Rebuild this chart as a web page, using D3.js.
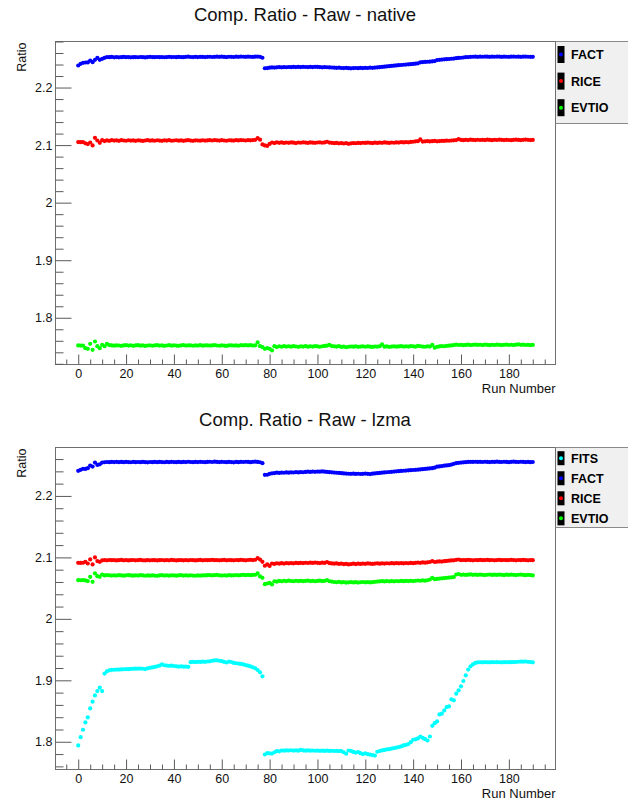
<!DOCTYPE html>
<html><head><meta charset="utf-8">
<script src="https://cdn.jsdelivr.net/npm/d3@7"></script>
<style>body{margin:0;background:#fff}svg{display:block}</style>
</head><body>
<svg id="c" width="628" height="800"></svg>
<script>
// ---------- data ----------
const runs = d3.range(0, 191);
const xMajorTicks = [0, 20, 40, 60, 80, 100, 120, 140, 160, 180];
const yMajorTicks = [1.8, 1.9, 2.0, 2.1, 2.2];
const yTickLabels = ["1.8", "1.9", "2", "2.1", "2.2"];
const titles = ["Comp. Ratio - Raw - native", "Comp. Ratio - Raw - lzma"];
const nativeSeries = ["FACT", "RICE", "EVTIO"];
const lzmaSeries = ["FITS", "FACT", "RICE", "EVTIO"];

const nativeFACT = [
2.2383,2.2412,2.2429,2.2435,2.2437,2.2470,2.2441,2.2481,2.2516,2.2481,
2.2499,2.2516,2.2530,2.2528,2.2532,2.2525,2.2530,2.2525,2.2528,2.2532,
2.2527,2.2530,2.2525,2.2528,2.2530,2.2526,2.2531,2.2528,2.2524,2.2530,
2.2533,2.2529,2.2527,2.2531,2.2528,2.2530,2.2526,2.2530,2.2533,2.2529,
2.2531,2.2527,2.2532,2.2530,2.2528,2.2534,2.2537,2.2531,2.2529,2.2533,
2.2530,2.2534,2.2532,2.2529,2.2533,2.2535,2.2531,2.2534,2.2537,2.2533,
2.2536,2.2532,2.2530,2.2535,2.2533,2.2531,2.2536,2.2534,2.2538,2.2535,
2.2533,2.2537,2.2535,2.2532,2.2536,2.2538,2.2534,2.2518,2.2335,2.2338,
2.2345,2.2350,2.2347,2.2352,2.2355,2.2351,2.2356,2.2353,2.2357,2.2354,
2.2358,2.2355,2.2359,2.2356,2.2360,2.2357,2.2355,2.2359,2.2356,2.2360,
2.2358,2.2355,2.2352,2.2356,2.2353,2.2350,2.2348,2.2345,2.2342,2.2345,
2.2340,2.2338,2.2342,2.2336,2.2334,2.2338,2.2340,2.2337,2.2341,2.2338,
2.2343,2.2340,2.2345,2.2342,2.2347,2.2350,2.2354,2.2358,2.2363,2.2367,
2.2372,2.2376,2.2380,2.2385,2.2389,2.2392,2.2396,2.2399,2.2403,2.2406,
2.2410,2.2415,2.2420,2.2438,2.2442,2.2445,2.2448,2.2450,2.2455,2.2460,
2.2478,2.2482,2.2486,2.2490,2.2493,2.2496,2.2500,2.2504,2.2510,2.2515,
2.2518,2.2522,2.2527,2.2530,2.2533,2.2535,2.2536,2.2534,2.2537,2.2535,
2.2538,2.2536,2.2534,2.2537,2.2535,2.2538,2.2536,2.2534,2.2537,2.2535,
2.2533,2.2536,2.2538,2.2535,2.2537,2.2534,2.2536,2.2538,2.2535,2.2533,
2.2534];

const nativeRICE = [
2.1052,2.1050,2.1053,2.1030,2.1018,2.1045,2.0994,2.1127,2.1080,2.1040,
2.1085,2.1070,2.1082,2.1075,2.1085,2.1078,2.1083,2.1074,2.1086,2.1080,
2.1076,2.1084,2.1079,2.1082,2.1075,2.1083,2.1078,2.1072,2.1080,2.1085,
2.1077,2.1082,2.1076,2.1084,2.1079,2.1074,2.1083,2.1078,2.1085,2.1076,
2.1080,2.1084,2.1077,2.1081,2.1075,2.1082,2.1086,2.1079,2.1075,2.1083,
2.1080,2.1077,2.1084,2.1079,2.1082,2.1085,2.1080,2.1088,2.1083,2.1078,
2.1085,2.1080,2.1076,2.1084,2.1081,2.1078,2.1085,2.1082,2.1088,2.1084,
2.1080,2.1086,2.1083,2.1088,2.1092,2.1120,2.1095,2.1012,2.0995,2.0985,
2.1020,2.1045,2.1035,2.1048,2.1040,2.1046,2.1038,2.1045,2.1040,2.1047,
2.1042,2.1036,2.1045,2.1041,2.1048,2.1043,2.1038,2.1046,2.1042,2.1039,
2.1045,2.1048,2.1041,2.1046,2.1058,2.1043,2.1040,2.1034,2.1038,2.1030,
2.1035,2.1028,2.1033,2.1022,2.1030,2.1036,2.1032,2.1038,2.1035,2.1041,
2.1037,2.1043,2.1039,2.1035,2.1042,2.1038,2.1044,2.1040,2.1046,2.1042,
2.1038,2.1045,2.1041,2.1047,2.1043,2.1050,2.1046,2.1052,2.1048,2.1055,
2.1058,2.1065,2.1068,2.1100,2.1062,2.1066,2.1070,2.1064,2.1068,2.1072,
2.1066,2.1070,2.1075,2.1072,2.1078,2.1076,2.1080,2.1083,2.1088,2.1105,
2.1090,2.1086,2.1092,2.1088,2.1094,2.1090,2.1087,2.1093,2.1089,2.1092,
2.1088,2.1094,2.1090,2.1086,2.1093,2.1089,2.1095,2.1091,2.1088,2.1092,
2.1089,2.1086,2.1091,2.1094,2.1090,2.1087,2.1092,2.1096,2.1091,2.1088,
2.1090];

const nativeEVTIO = [
1.7519,1.7517,1.7515,1.7472,1.7461,1.7548,1.7443,1.7588,1.7507,1.7472,
1.7530,1.7505,1.7548,1.7525,1.7519,1.7515,1.7522,1.7518,1.7512,1.7520,
1.7524,1.7516,1.7521,1.7513,1.7519,1.7523,1.7515,1.7520,1.7511,1.7518,
1.7522,1.7514,1.7519,1.7523,1.7516,1.7520,1.7513,1.7518,1.7524,1.7515,
1.7521,1.7517,1.7512,1.7520,1.7525,1.7516,1.7519,1.7522,1.7514,1.7520,
1.7517,1.7523,1.7515,1.7519,1.7521,1.7516,1.7520,1.7526,1.7518,1.7514,
1.7521,1.7517,1.7511,1.7519,1.7522,1.7516,1.7520,1.7514,1.7524,1.7521,
1.7525,1.7519,1.7523,1.7517,1.7522,1.7571,1.7507,1.7490,1.7461,1.7472,
1.7461,1.7432,1.7507,1.7490,1.7505,1.7496,1.7508,1.7499,1.7505,1.7498,
1.7506,1.7501,1.7495,1.7504,1.7500,1.7507,1.7497,1.7503,1.7499,1.7506,
1.7502,1.7496,1.7505,1.7510,1.7515,1.7530,1.7508,1.7503,1.7499,1.7506,
1.7494,1.7500,1.7488,1.7496,1.7501,1.7497,1.7503,1.7495,1.7500,1.7504,
1.7496,1.7502,1.7498,1.7493,1.7501,1.7497,1.7505,1.7536,1.7498,1.7502,
1.7495,1.7500,1.7504,1.7497,1.7502,1.7506,1.7499,1.7504,1.7500,1.7507,
1.7503,1.7498,1.7511,1.7505,1.7500,1.7496,1.7504,1.7499,1.7530,1.7480,
1.7495,1.7502,1.7508,1.7505,1.7512,1.7515,1.7520,1.7524,1.7534,1.7527,
1.7530,1.7524,1.7528,1.7532,1.7526,1.7530,1.7535,1.7528,1.7531,1.7526,
1.7533,1.7529,1.7524,1.7531,1.7527,1.7533,1.7529,1.7525,1.7530,1.7534,
1.7527,1.7531,1.7526,1.7532,1.7536,1.7529,1.7533,1.7527,1.7530,1.7526,
1.7528];

const lzmaFITS = [
1.7940,1.8075,1.8196,1.8315,1.8396,1.8543,1.8652,1.8755,1.8825,1.8881,
1.8825,1.9109,1.9147,1.9163,1.9170,1.9172,1.9175,1.9174,1.9178,1.9180,
1.9182,1.9181,1.9185,1.9188,1.9190,1.9189,1.9191,1.9188,1.9183,1.9195,
1.9203,1.9210,1.9218,1.9228,1.9240,1.9258,1.9245,1.9240,1.9236,1.9238,
1.9233,1.9228,1.9224,1.9226,1.9222,1.9224,1.9220,1.9295,1.9299,1.9297,
1.9301,1.9299,1.9303,1.9301,1.9306,1.9309,1.9318,1.9324,1.9326,1.9318,
1.9312,1.9300,1.9290,1.9305,1.9298,1.9283,1.9278,1.9272,1.9266,1.9258,
1.9248,1.9238,1.9226,1.9212,1.9195,1.9168,1.9130,1.9065,1.7793,1.7814,
1.7810,1.7808,1.7830,1.7847,1.7845,1.7858,1.7855,1.7860,1.7858,1.7862,
1.7857,1.7860,1.7856,1.7867,1.7859,1.7856,1.7860,1.7855,1.7858,1.7854,
1.7857,1.7853,1.7856,1.7852,1.7855,1.7851,1.7854,1.7850,1.7852,1.7849,
1.7848,1.7830,1.7805,1.7858,1.7852,1.7835,1.7825,1.7832,1.7815,1.7800,
1.7812,1.7798,1.7790,1.7784,1.7776,1.7838,1.7850,1.7860,1.7868,1.7875,
1.7880,1.7890,1.7898,1.7905,1.7915,1.7925,1.7940,1.7950,1.7962,1.7993,
1.8033,1.8040,1.8054,1.8086,1.8065,1.8042,1.8021,1.8086,1.8260,1.8303,
1.8331,1.8445,1.8457,1.8510,1.8564,1.8576,1.8690,1.8674,1.8783,1.8837,
1.8902,1.8989,1.9081,1.9174,1.9228,1.9261,1.9283,1.9292,1.9294,1.9293,
1.9295,1.9294,1.9293,1.9295,1.9294,1.9296,1.9294,1.9293,1.9295,1.9294,
1.9296,1.9295,1.9297,1.9298,1.9302,1.9305,1.9303,1.9306,1.9301,1.9298,
1.9293];

const lzmaFACT = [
2.2408,2.2425,2.2441,2.2440,2.2452,2.2494,2.2477,2.2543,2.2505,2.2515,
2.2543,2.2548,2.2552,2.2550,2.2554,2.2551,2.2555,2.2549,2.2553,2.2550,
2.2554,2.2551,2.2548,2.2553,2.2550,2.2552,2.2549,2.2554,2.2550,2.2547,
2.2552,2.2549,2.2553,2.2550,2.2554,2.2551,2.2548,2.2553,2.2550,2.2555,
2.2551,2.2549,2.2553,2.2550,2.2554,2.2551,2.2556,2.2552,2.2549,2.2554,
2.2551,2.2555,2.2552,2.2549,2.2553,2.2556,2.2552,2.2558,2.2554,2.2551,
2.2555,2.2552,2.2549,2.2554,2.2551,2.2547,2.2553,2.2550,2.2555,2.2552,
2.2556,2.2553,2.2550,2.2555,2.2557,2.2554,2.2548,2.2533,2.2343,2.2345,
2.2359,2.2368,2.2372,2.2378,2.2375,2.2380,2.2377,2.2382,2.2379,2.2384,
2.2381,2.2386,2.2383,2.2388,2.2385,2.2390,2.2394,2.2391,2.2396,2.2393,
2.2397,2.2394,2.2398,2.2395,2.2391,2.2387,2.2384,2.2380,2.2377,2.2374,
2.2370,2.2367,2.2364,2.2361,2.2359,2.2362,2.2358,2.2361,2.2357,2.2360,
2.2363,2.2359,2.2356,2.2362,2.2366,2.2370,2.2374,2.2378,2.2382,2.2385,
2.2389,2.2392,2.2396,2.2400,2.2403,2.2407,2.2410,2.2413,2.2416,2.2419,
2.2422,2.2425,2.2428,2.2432,2.2436,2.2440,2.2444,2.2448,2.2451,2.2460,
2.2476,2.2480,2.2485,2.2492,2.2497,2.2501,2.2510,2.2522,2.2533,2.2538,
2.2542,2.2546,2.2549,2.2553,2.2555,2.2554,2.2556,2.2553,2.2555,2.2552,
2.2556,2.2554,2.2551,2.2555,2.2553,2.2557,2.2554,2.2552,2.2556,2.2553,
2.2550,2.2555,2.2557,2.2554,2.2552,2.2556,2.2553,2.2551,2.2554,2.2550,
2.2552];

const lzmaRICE = [
2.0912,2.0910,2.0913,2.0928,2.0901,2.0967,2.0885,2.1000,2.0940,2.0928,
2.0950,2.0956,2.0952,2.0958,2.0954,2.0957,2.0951,2.0955,2.0959,2.0953,
2.0956,2.0950,2.0954,2.0958,2.0952,2.0955,2.0959,2.0953,2.0950,2.0956,
2.0952,2.0957,2.0954,2.0951,2.0955,2.0958,2.0952,2.0956,2.0953,2.0959,
2.0955,2.0951,2.0954,2.0957,2.0952,2.0956,2.0953,2.0958,2.0954,2.0950,
2.0955,2.0959,2.0953,2.0957,2.0954,2.0956,2.0960,2.0954,2.0957,2.0952,
2.0956,2.0959,2.0953,2.0957,2.0955,2.0952,2.0958,2.0955,2.0960,2.0956,
2.0953,2.0958,2.0961,2.0957,2.0962,2.0989,2.0965,2.0928,2.0864,2.0885,
2.0862,2.0901,2.0893,2.0905,2.0898,2.0906,2.0900,2.0907,2.0903,2.0908,
2.0904,2.0910,2.0906,2.0911,2.0907,2.0913,2.0909,2.0914,2.0910,2.0915,
2.0911,2.0908,2.0914,2.0910,2.0925,2.0906,2.0902,2.0898,2.0903,2.0893,
2.0899,2.0890,2.0896,2.0885,2.0892,2.0897,2.0891,2.0898,2.0894,2.0900,
2.0896,2.0902,2.0897,2.0893,2.0899,2.0903,2.0898,2.0904,2.0900,2.0905,
2.0901,2.0906,2.0902,2.0907,2.0903,2.0908,2.0904,2.0909,2.0905,2.0910,
2.0906,2.0911,2.0915,2.0912,2.0918,2.0914,2.0920,2.0925,2.0940,2.0925,
2.0930,2.0935,2.0932,2.0938,2.0942,2.0946,2.0950,2.0953,2.0960,2.0966,
2.0955,2.0958,2.0954,2.0960,2.0956,2.0952,2.0958,2.0955,2.0959,2.0954,
2.0957,2.0961,2.0955,2.0958,2.0953,2.0957,2.0960,2.0955,2.0958,2.0954,
2.0957,2.0961,2.0956,2.0953,2.0958,2.0955,2.0959,2.0956,2.0953,2.0957,
2.0954];

const lzmaEVTIO = [
2.0630,2.0628,2.0631,2.0625,2.0614,2.0684,2.0603,2.0739,2.0695,2.0684,
2.0722,2.0706,2.0712,2.0708,2.0704,2.0709,2.0705,2.0711,2.0707,2.0703,
2.0708,2.0712,2.0706,2.0702,2.0708,2.0704,2.0710,2.0706,2.0701,2.0707,
2.0703,2.0709,2.0705,2.0700,2.0706,2.0710,2.0705,2.0708,2.0703,2.0709,
2.0706,2.0702,2.0707,2.0711,2.0705,2.0708,2.0704,2.0709,2.0705,2.0701,
2.0707,2.0703,2.0709,2.0706,2.0710,2.0712,2.0707,2.0711,2.0715,2.0709,
2.0704,2.0708,2.0705,2.0710,2.0706,2.0709,2.0713,2.0708,2.0712,2.0716,
2.0711,2.0714,2.0710,2.0715,2.0718,2.0739,2.0690,2.0668,2.0564,2.0575,
2.0586,2.0560,2.0612,2.0605,2.0619,2.0612,2.0620,2.0615,2.0621,2.0616,
2.0612,2.0620,2.0614,2.0619,2.0613,2.0618,2.0622,2.0615,2.0619,2.0612,
2.0617,2.0621,2.0614,2.0618,2.0630,2.0612,2.0606,2.0600,2.0596,2.0602,
2.0593,2.0598,2.0590,2.0595,2.0599,2.0592,2.0597,2.0591,2.0596,2.0600,
2.0594,2.0598,2.0592,2.0597,2.0602,2.0606,2.0610,2.0613,2.0609,2.0614,
2.0610,2.0615,2.0611,2.0616,2.0612,2.0617,2.0613,2.0618,2.0614,2.0619,
2.0615,2.0620,2.0624,2.0620,2.0626,2.0622,2.0628,2.0640,2.0668,2.0645,
2.0650,2.0656,2.0660,2.0664,2.0668,2.0672,2.0676,2.0680,2.0722,2.0730,
2.0716,2.0720,2.0714,2.0719,2.0723,2.0717,2.0721,2.0715,2.0720,2.0716,
2.0712,2.0718,2.0722,2.0715,2.0719,2.0714,2.0720,2.0716,2.0713,2.0719,
2.0715,2.0720,2.0716,2.0712,2.0718,2.0721,2.0715,2.0711,2.0716,2.0712,
2.0706];

const colors = { FITS: "#00ffff", FACT: "#0000ff", RICE: "#ff0000", EVTIO: "#00ff00" };

// ---------- drawing ----------
const svg = d3.select("#c");
const FONT = "'Liberation Sans', Arial, Helvetica, sans-serif";
const frameL = 55.5, frameR = 555.5;

function panel(cfg) {
  const g = svg.append("g");
  const x = d3.scaleLinear().domain([-9.5, 199.5]).range([frameL, frameR]);
  const y = d3.scaleLinear().domain(cfg.yDomain).range([cfg.bottom, cfg.top]);

  g.append("text").attr("x", 305).attr("y", cfg.titleY)
    .attr("text-anchor", "middle").attr("font-family", FONT).attr("font-size", "18.5px")
    .attr("fill", "#111").text(cfg.title);

  g.append("rect").attr("x", frameL).attr("y", cfg.top)
    .attr("width", frameR - frameL).attr("height", cfg.bottom - cfg.top)
    .attr("fill", "none").attr("stroke", "#6e6e6e").attr("stroke-width", 1);

  const yMinor = d3.range(1.72, 2.2801, 0.02).map(v => +v.toFixed(2))
    .filter(v => v >= cfg.yDomain[0] - 1e-6 && v <= cfg.yDomain[1] + 1e-6)
    .filter(v => !yMajorTicks.some(m => Math.abs(m - v) < 1e-6));
  const yMin = g.append("g").attr("transform", `translate(${frameL},0)`)
    .call(d3.axisLeft(y).tickValues(yMinor).tickSize(-8).tickFormat(""));
  const yMaj = g.append("g").attr("transform", `translate(${frameL},0)`)
    .call(d3.axisLeft(y).tickValues(yMajorTicks).tickSize(-16).tickPadding(3)
      .tickFormat((d, i) => yTickLabels[i]));
  const xMinor = d3.range(-5, 196, 5).filter(v => v % 20 !== 0);
  const xMin = g.append("g").attr("transform", `translate(0,${cfg.bottom})`)
    .call(d3.axisBottom(x).tickValues(xMinor).tickSize(-5).tickFormat(""));
  const xMaj = g.append("g").attr("transform", `translate(0,${cfg.bottom})`)
    .call(d3.axisBottom(x).tickValues(xMajorTicks).tickSize(-10).tickPadding(5));
  [yMin, yMaj, xMin, xMaj].forEach(a => {
    a.select(".domain").remove();
    a.selectAll(".tick line").attr("stroke", "#5a5a5a");
    a.selectAll("text").attr("font-family", FONT).attr("font-size", "12.5px").attr("fill", "#111");
  });

  g.append("text").attr("transform", `translate(25.5,${cfg.top + 1}) rotate(-90)`)
    .attr("text-anchor", "end").attr("font-family", FONT).attr("font-size", "12.5px")
    .attr("fill", "#111").text("Ratio");
  g.append("text").attr("x", frameR).attr("y", cfg.bottom + 28)
    .attr("text-anchor", "end").attr("font-family", FONT).attr("font-size", "13px")
    .attr("fill", "#111").text("Run Number");

  cfg.series.forEach(s => {
    g.append("g").selectAll("circle").data(runs)
      .join("circle")
      .attr("cx", d => x(d)).attr("cy", (d, i) => y(s.values[i]))
      .attr("r", 2.1).attr("fill", colors[s.name]);
  });

  const lg = g.append("g");
  lg.append("rect").attr("x", frameR + 0.5).attr("y", cfg.top)
    .attr("width", 80).attr("height", cfg.legendBottom - cfg.top).attr("fill", "#f0f0f0");
  lg.append("line").attr("x1", frameR).attr("x2", 628).attr("y1", cfg.top).attr("y2", cfg.top)
    .attr("stroke", "#8a8a8a");
  lg.append("line").attr("x1", frameR).attr("x2", 628)
    .attr("y1", cfg.legendBottom + 0.5).attr("y2", cfg.legendBottom + 0.5).attr("stroke", "#8a8a8a");
  cfg.series.forEach((s, i) => {
    const cy = cfg.legendY0 + i * cfg.legendStep;
    lg.append("rect").attr("x", 557.5).attr("y", cy - cfg.boxH / 2)
      .attr("width", 7).attr("height", cfg.boxH).attr("fill", "#000");
    lg.append("circle").attr("cx", 561).attr("cy", cy).attr("r", 2).attr("fill", colors[s.name]);
    lg.append("text").attr("x", 571).attr("y", cy).attr("dy", "0.36em")
      .attr("font-family", FONT).attr("font-size", "12.5px").attr("font-weight", "bold")
      .attr("fill", "#000").text(s.name);
  });
}

const all = [nativeFACT, nativeRICE, nativeEVTIO, lzmaFITS, lzmaFACT, lzmaRICE, lzmaEVTIO];
all.forEach((a, i) => { if (a.length !== runs.length) throw new Error("series " + i + " length " + a.length); });

panel({
  title: titles[0], titleY: 20.5, top: 41.5, bottom: 364.5,
  yDomain: [1.7188, 2.2800],
  series: [
    { name: nativeSeries[0], values: nativeFACT },
    { name: nativeSeries[1], values: nativeRICE },
    { name: nativeSeries[2], values: nativeEVTIO }
  ],
  legendBottom: 123, legendY0: 54.5, legendStep: 26.6, boxH: 17
});
panel({
  title: titles[1], titleY: 426, top: 447.5, bottom: 769.5,
  yDomain: [1.7549, 2.2788],
  series: [
    { name: lzmaSeries[0], values: lzmaFITS },
    { name: lzmaSeries[1], values: lzmaFACT },
    { name: lzmaSeries[2], values: lzmaRICE },
    { name: lzmaSeries[3], values: lzmaEVTIO }
  ],
  legendBottom: 527, legendY0: 458.2, legendStep: 20.05, boxH: 14
});
</script>
</body></html>
